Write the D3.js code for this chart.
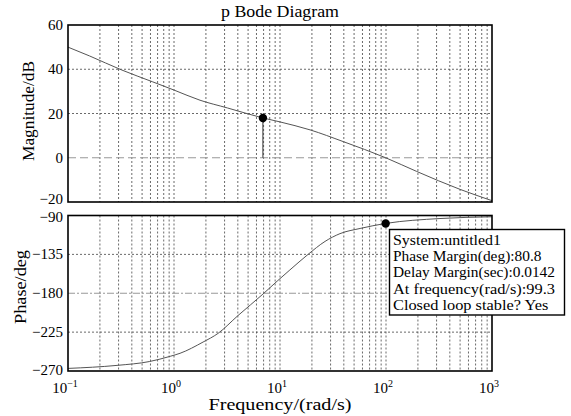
<!DOCTYPE html>
<html>
<head>
<meta charset="utf-8">
<script src="https://cdn.jsdelivr.net/npm/d3@7/dist/d3.min.js"></script>
<style>
  body { margin: 0; background: #fff; }
  svg { display: block; }
</style>
</head>
<body>
<div class="bode"></div>
<script>
// magnitude curve (rad/s, dB)
const magFreq = [0.1, 0.16, 0.32, 0.63, 1.0, 1.76, 3.2, 6.9, 10, 19.2, 39.5, 99.3, 195, 500, 1000]
const magDb   = [50, 46, 39.7, 34.3, 30.6, 26, 22.5, 18, 16.2, 12.6, 7.3, 0, -6.2, -14.3, -19.4]

// phase curve (rad/s, deg)
const phaseFreq = [0.1, 0.29, 0.59, 0.92, 1.14, 1.88, 2.6, 4.0, 6.9, 9.4, 12.4, 18.4, 26.6, 36.8, 57, 99.3, 323, 1000]
const phaseDeg  = [-267, -263.5, -259, -253, -249.5, -236.5, -226.5, -206, -181, -166, -153, -135, -120, -111, -105, -99.2, -93.5, -91.5]

const magTicks = [60, 40, 20, 0, -20]
const phaseTicks = [-90, -135, -180, -225, -270]
const decades = [-1, 0, 1, 2, 3]

const magMarker = {f: 6.9, v: 18}
const phaseMarker = {f: 99.3, v: -99.2}

const infoLines = [
  "System:untitled1",
  "Phase Margin(deg):80.8",
  "Delay Margin(sec):0.0142",
  "At frequency(rad/s):99.3",
  "Closed loop stable? Yes"
]

const width = 571
const height = 416
const left = 68, right = 492
const magTop = 25, magBottom = 202
const phTop = 215.5, phBottom = 371

const x = d3.scaleLog().domain([0.1, 1000]).range([left, right])
const yMag = d3.scaleLinear().domain([-20, 60]).range([magBottom, magTop])
const yPh = d3.scaleLinear().domain([-270, -90]).range([phBottom, phTop])

const svg = d3.select(".bode").append("svg")
  .attr("width", width)
  .attr("height", height)

const serif = "'Liberation Serif', 'Times New Roman', serif"

// vertical grid lines at every decade step
const gridFreqs = []
for (let e = -1; e < 3; e++) {
  for (let k = 1; k <= 9; k++) {
    if (e === -1 && k === 1) continue
    gridFreqs.push(k * Math.pow(10, e))
  }
}

function panel(y, top, bottom, ticks, special, specialDash, data, label, labelX, labelY, labelLen, tickDy) {
  const g = svg.append("g")

  g.selectAll(".vgrid")
    .data(gridFreqs)
    .enter().append("line")
    .attr("x1", d => x(d)).attr("x2", d => x(d))
    .attr("y1", top).attr("y2", bottom)
    .attr("stroke", "#444")
    .attr("stroke-width", 0.8)
    .attr("stroke-dasharray", "2,2")

  g.selectAll(".hgrid")
    .data(ticks.slice(1, -1))
    .enter().append("line")
    .attr("x1", left).attr("x2", right)
    .attr("y1", d => y(d)).attr("y2", d => y(d))
    .attr("stroke", d => d === special ? "#999" : "#444")
    .attr("stroke-width", d => d === special ? 1.2 : 0.8)
    .attr("stroke-dasharray", d => d === special ? specialDash : "2,2")

  const line = d3.line()
    .x(d => x(d[0]))
    .y(d => y(d[1]))
    .curve(d3.curveMonotoneX)

  g.append("path")
    .datum(data)
    .attr("d", line)
    .attr("fill", "none")
    .attr("stroke", "#555")
    .attr("stroke-width", 1)

  g.append("rect")
    .attr("x", left).attr("y", top)
    .attr("width", right - left).attr("height", bottom - top)
    .attr("fill", "none")
    .attr("stroke", "#000")
    .attr("stroke-width", 1.6)

  g.selectAll(".ytick")
    .data(ticks)
    .enter().append("text")
    .attr("x", 63)
    .attr("y", (d, i) => y(d) + tickDy[i])
    .attr("text-anchor", "end")
    .attr("font-family", serif)
    .attr("font-size", "15px")
    .text(d => d < 0 ? "\u2212" + Math.abs(d) : d)

  g.append("text")
    .attr("transform", "translate(" + labelX + "," + labelY + ") rotate(-90)")
    .attr("text-anchor", "middle")
    .attr("font-family", serif)
    .attr("font-size", "16px")
    .attr("textLength", labelLen)
    .attr("lengthAdjust", "spacingAndGlyphs")
    .text(label)

  return g
}

const magData = magFreq.map((f, i) => [f, magDb[i]])
const phData = phaseFreq.map((f, i) => [f, phaseDeg[i]])

const gMag = panel(yMag, magTop, magBottom, magTicks, 0, "8,4", magData,
  "Magnitude/dB", 34, 111, 100, [5, 5, 5, 5, 1.5])
const gPh = panel(yPh, phTop, phBottom, phaseTicks, -180, "7,2,2,2", phData,
  "Phase/deg", 26, 287, 74, [6.5, 5, 5, 5, 4])

// marker + stem on the magnitude plot
gMag.append("line")
  .attr("x1", x(magMarker.f)).attr("x2", x(magMarker.f))
  .attr("y1", yMag(magMarker.v)).attr("y2", yMag(0))
  .attr("stroke", "#333")
  .attr("stroke-width", 1)
gMag.append("circle")
  .attr("cx", x(magMarker.f)).attr("cy", yMag(magMarker.v))
  .attr("r", 4.2)
  .attr("fill", "#000")

gPh.append("circle")
  .attr("cx", x(phaseMarker.f)).attr("cy", yPh(phaseMarker.v))
  .attr("r", 4.2)
  .attr("fill", "#000")

// data tip box
const tip = svg.append("g")
tip.append("rect")
  .attr("x", 389.5).attr("y", 229.5)
  .attr("width", 175).attr("height", 85.5)
  .attr("fill", "#fff")
  .attr("stroke", "#000")
  .attr("stroke-width", 1.4)
tip.selectAll("text")
  .data(infoLines)
  .enter().append("text")
  .attr("x", 393)
  .attr("y", (d, i) => 245 + i * 16.2)
  .attr("font-family", serif)
  .attr("font-size", "14px")
  .attr("textLength", d => d.length * 6.75)
  .attr("lengthAdjust", "spacingAndGlyphs")
  .text(d => d)

// x tick labels 10^n
const xt = svg.selectAll(".xtick")
  .data(decades)
  .enter().append("text")
  .attr("x", d => x(Math.pow(10, d)) - 3)
  .attr("y", 393)
  .attr("text-anchor", "middle")
  .attr("font-family", serif)
  .attr("font-size", "15px")
xt.append("tspan").text("10")
xt.append("tspan")
  .attr("dy", -6)
  .attr("font-size", "10px")
  .text(d => d < 0 ? "\u2212" + Math.abs(d) : d)

svg.append("text")
  .attr("x", (left + right) / 2)
  .attr("y", 410)
  .attr("text-anchor", "middle")
  .attr("font-family", serif)
  .attr("font-size", "16px")
  .attr("textLength", 143)
  .attr("lengthAdjust", "spacingAndGlyphs")
  .text("Frequency/(rad/s)")

svg.append("text")
  .attr("x", (left + right) / 2)
  .attr("y", 17)
  .attr("text-anchor", "middle")
  .attr("font-family", serif)
  .attr("font-size", "16px")
  .attr("textLength", 118)
  .attr("lengthAdjust", "spacingAndGlyphs")
  .text("p Bode Diagram")
</script>
</body>
</html>
